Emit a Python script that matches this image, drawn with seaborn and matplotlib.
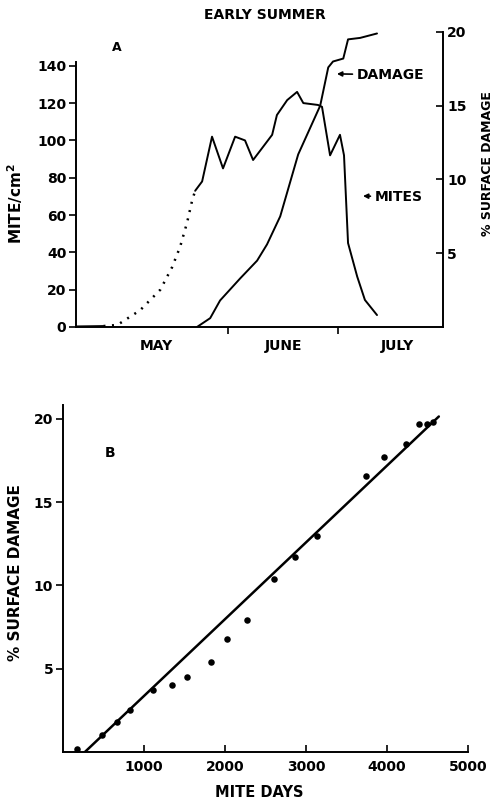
import matplotlib
matplotlib.use("Agg")
import matplotlib.pyplot as plt
import seaborn as sns
import pandas as pd

sns.set_style("ticks")
plt.rcParams['font.family'] = ['DejaVu Sans']
plt.rcParams['font.weight'] = 'bold'
for k in ['text.color', 'axes.labelcolor', 'xtick.color', 'ytick.color', 'axes.edgecolor']:
    plt.rcParams[k] = 'black'

# ---------------- Panel A data (x = day of year) ----------------
month_labels = ["MAY", "JUNE", "JULY"]
month_label_pos = [132.4, 167.0, 198.1]
month_bounds = [152, 182]

mites_base_day = [110.5, 118.0]
mites_base = [0.3, 0.5]

mites_dotted_day = [118.0, 121.2, 122.5, 128.0, 133.5, 136.7, 138.9, 140.8, 142.2, 143.0]
mites_dotted = [0.5, 1, 2, 9, 20, 32, 43, 56, 68, 73]

mites_day = [143.0, 144.9, 147.6, 150.6, 153.9, 156.6, 158.8, 161.5, 164.0, 165.3, 168.1,
             170.8, 172.5, 176.5, 177.6, 179.8, 182.5, 183.6, 184.7, 187.2, 189.3, 192.6]
mites = [73, 78, 102, 85, 102, 100, 89.5, 96.5, 103, 113.6, 121.6,
         126, 120, 119, 118, 92, 103, 92, 45, 27, 14.5, 6.4]

damage_day = [143.5, 147.1, 149.8, 155.3, 159.9, 162.6, 166.2, 171.1, 177.1, 179.3,
              180.6, 183.4, 184.7, 188.0, 192.6]
damage = [0, 0.6, 1.8, 3.3, 4.5, 5.6, 7.5, 11.7, 15.0, 17.6, 18.0, 18.2, 19.5, 19.6, 19.9]

mite_ticks = [0, 20, 40, 60, 80, 100, 120, 140]
damage_ticks = [5, 10, 15, 20]

# ---------------- Panel B data ----------------
mite_days = [169, 478, 663, 827, 1107, 1342, 1535, 1823, 2029, 2267, 2609, 2864,
             3140, 3737, 3967, 4235, 4399, 4490, 4564]
surf_damage = [0.16, 1.0, 1.8, 2.5, 3.7, 4.0, 4.5, 5.4, 6.8, 7.9, 10.4, 11.7,
               13.0, 16.6, 17.7, 18.5, 19.7, 19.7, 19.8]
fit_x = [270, 4640]
fit_y = [0, 20.15]
b_xticks = [1000, 2000, 3000, 4000, 5000]
b_yticks = [5, 10, 15, 20]

FS = 10
fig = plt.figure(figsize=(4.93, 8.0), dpi=100)

# ================= Panel A =================
axA = fig.add_axes([76/493, 1-327/800, 367/493, 295/800])
axA2 = axA.twinx()

sns.lineplot(x=mites_base_day, y=mites_base, ax=axA, color='black', lw=1.4, estimator=None)
sns.lineplot(x=mites_dotted_day, y=mites_dotted, ax=axA, color='black', lw=1.8,
             linestyle=(0, (0.8, 2.6)), estimator=None)
sns.lineplot(x=mites_day, y=mites, ax=axA, color='black', lw=1.4, estimator=None)
sns.lineplot(x=damage_day, y=damage, ax=axA2, color='black', lw=1.4, estimator=None)

axA.set_xlim(110.5, 210.6)
axA.set_ylim(0, 158.1)
axA2.set_ylim(0, 20)
axA.set_yticks(mite_ticks)
axA.set_yticklabels([str(t) for t in mite_ticks], fontsize=FS, fontweight='bold')
axA2.set_yticks(damage_ticks)
axA2.set_yticklabels([str(t) for t in damage_ticks], fontsize=FS, fontweight='bold')

axA.set_xticks(month_bounds)
axA.set_xticklabels(['', ''])
axA.set_xticks(month_label_pos, minor=True)
axA.set_xticklabels(month_labels, minor=True, fontsize=FS, fontweight='bold')
axA.tick_params(axis='x', which='minor', length=0, pad=9)
axA.tick_params(axis='x', which='major', length=5, width=1.2, direction='out')
axA.tick_params(axis='y', length=5, width=1.2, direction='out', pad=2)
axA2.tick_params(axis='y', length=5, width=1.2, direction='in', pad=3)

for s in ['top', 'right']:
    axA.spines[s].set_visible(False)
for s in ['top', 'left', 'bottom']:
    axA2.spines[s].set_visible(False)
axA.spines['left'].set_bounds(0, 142)
for s in ['left', 'bottom']:
    axA.spines[s].set_linewidth(1.4)
axA2.spines['right'].set_linewidth(1.4)

axA.set_xlabel('')
axA.set_ylabel('MITE/cm$^{\\mathbf{2}}$', fontsize=11, fontweight='bold')
axA.yaxis.set_label_coords(-0.139, 0.42)
axA2.set_ylabel('% SURFACE DAMAGE', fontsize=9, fontweight='bold')
axA2.yaxis.set_label_coords(1.103, 0.553)

axA.text(0.112, 0.946, 'A', transform=axA.transAxes, fontsize=9, fontweight='bold',
         ha='center', va='center')
fig.text(265/493, 1-15/800, 'EARLY SUMMER', fontsize=10, fontweight='bold',
         ha='center', va='center')

arrow = dict(arrowstyle='-|>', lw=1.2, color='black', mutation_scale=7, shrinkA=1, shrinkB=0)
axA.annotate('DAMAGE', xy=(0.711, 0.858), xycoords='axes fraction',
             xytext=(0.766, 0.855), textcoords='axes fraction',
             fontsize=FS, fontweight='bold', ha='left', va='center', arrowprops=arrow)
axA.annotate('MITES', xy=(0.782, 0.444), xycoords='axes fraction',
             xytext=(0.815, 0.441), textcoords='axes fraction',
             fontsize=FS, fontweight='bold', ha='left', va='center', arrowprops=arrow)

# ================= Panel B =================
axB = fig.add_axes([63/493, 1-752/800, 405/493, 347/800])
sns.lineplot(x=fit_x, y=fit_y, ax=axB, color='black', lw=1.8, estimator=None)
sns.scatterplot(x=mite_days, y=surf_damage, ax=axB, color='black', s=22,
                edgecolor='black', linewidth=0, clip_on=False, zorder=3)
axB.set_xlim(0, 5000)
axB.set_ylim(0, 20.84)
axB.set_xticks(b_xticks)
axB.set_xticklabels([str(t) for t in b_xticks], fontsize=FS, fontweight='bold')
axB.set_yticks(b_yticks)
axB.set_yticklabels([str(t) for t in b_yticks], fontsize=FS, fontweight='bold')
axB.tick_params(axis='x', length=5, width=1.2, direction='in', pad=6)
axB.tick_params(axis='y', length=5, width=1.2, direction='out', pad=2)
for s in ['top', 'right']:
    axB.spines[s].set_visible(False)
for s in ['left', 'bottom']:
    axB.spines[s].set_linewidth(1.4)
axB.set_xlabel('MITE DAYS', fontsize=10.5, fontweight='bold')
axB.xaxis.set_label_coords(0.484, -0.094)
axB.set_ylabel('% SURFACE DAMAGE', fontsize=11, fontweight='bold')
axB.yaxis.set_label_coords(-0.099, 0.516)
axB.text(0.116, 0.862, 'B', transform=axB.transAxes, fontsize=10, fontweight='bold',
         ha='center', va='center')

fig.savefig('out.png', dpi=100)
